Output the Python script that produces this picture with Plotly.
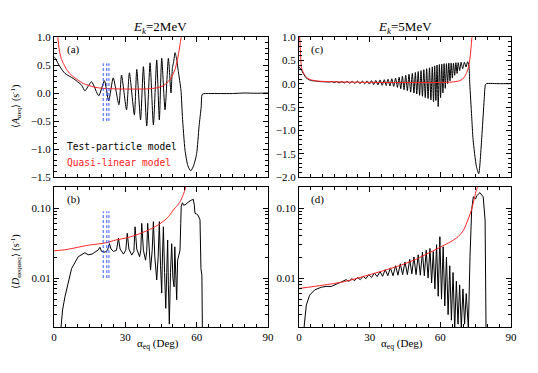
import plotly.graph_objects as go
from plotly.subplots import make_subplots

# ---------------- data ----------------
# Panel (a): E_k = 2 MeV, <A_aeq>
a_tp_x = [0, 0.5, 2.5, 4.6, 8.1, 11.6, 13.0, 15.8, 18.8, 21.2, 23.0, 24.9, 27.3, 28.4, 30.5, 31.7,
          33.8, 34.8, 36.4, 37.6, 39.0, 40.4, 41.8, 43.2, 44.3, 45.3, 46.7, 48.1, 49.2, 49.8, 50.3,
          50.9, 51.6, 52.3, 53.4, 54.0, 55.1, 56.3, 57.5, 58.7, 60.0, 61.0, 61.9, 62.4, 65, 70, 75,
          80, 85, 90]
a_tp_y = [0.65, 0.62, 0.47, 0.35, 0.26, 0.14, 0.04, 0.20, -0.05, 0.22, -0.14, 0.27, -0.21, 0.32,
          -0.30, 0.36, -0.39, 0.42, -0.48, 0.47, -0.59, 0.54, -0.57, 0.59, -0.48, 0.62, -0.30, 0.62,
          0.0, 0.45, 0.55, 0.72, 0.60, 0.38, 0.05, -0.42, -1.02, -1.30, -1.39, -1.30, -1.08, -0.60,
          -0.25, -0.02, -0.01, -0.01, -0.01, 0.0, -0.005, 0.0]
a_ql_x = [1.5, 2.2, 3.0, 3.9, 5.3, 7.0, 8.8, 12.3, 16.5, 20, 25, 30, 35, 40, 43, 46, 48.8, 50.9,
          52.3, 53.2, 53.7]
a_ql_y = [1.05, 0.77, 0.62, 0.53, 0.42, 0.33, 0.27, 0.17, 0.11, 0.085, 0.075, 0.07, 0.07, 0.075,
          0.09, 0.13, 0.24, 0.42, 0.68, 0.92, 1.05]

# Panel (b): E_k = 2 MeV, <D_aeqaeq>
b_tp_x = [2.9, 3.6, 4.6, 5.5, 7.4, 10.2, 12.0, 13.0, 14.4, 16.0, 17.2, 18.5, 19.3, 20.0, 21.5,
          22.5, 23.3, 24.0, 25.0, 26.3, 27.1, 27.8, 29.2, 30.2, 30.8, 31.5, 32.7, 33.6, 34.1, 34.8,
          36.0, 36.5, 36.9, 37.6, 38.5, 39.0, 39.4, 40.0, 40.6, 41.3, 41.8, 42.4, 43.2, 43.8, 44.3,
          44.8, 45.3, 45.6, 46.0, 46.5, 47.0, 47.4, 47.8, 48.1, 48.5, 49.0, 49.5, 50.0, 50.5, 50.8,
          51.2, 51.6, 52.0, 52.5, 53.0, 53.3, 53.5, 54.0, 54.5, 55.1, 56.0, 56.8, 57.8, 58.6, 59.0,
          59.3, 60.0, 60.6, 61.4, 61.7, 61.8, 62.2, 62.4]
b_tp_y = [0.0019, 0.0035, 0.0054, 0.0075, 0.0137, 0.0202, 0.022, 0.023, 0.0215, 0.022, 0.0235,
          0.025, 0.0275, 0.024, 0.0235, 0.025, 0.031, 0.026, 0.024, 0.025, 0.037, 0.026, 0.022,
          0.025, 0.0436, 0.026, 0.0213, 0.024, 0.054, 0.026, 0.0202, 0.025, 0.0605, 0.025, 0.018,
          0.024, 0.0605, 0.022, 0.013, 0.025, 0.064, 0.020, 0.0094, 0.020, 0.064, 0.015, 0.0061,
          0.020, 0.054, 0.012, 0.0037, 0.012, 0.035, 0.008, 0.0022, 0.012, 0.031, 0.010, 0.0075,
          0.028, 0.008, 0.0049, 0.018, 0.022, 0.025, 0.060, 0.105, 0.119, 0.110, 0.111, 0.120,
          0.124, 0.130, 0.133, 0.110, 0.084, 0.082, 0.079, 0.068, 0.030, 0.0137, 0.011, 0.0019]
b_ql_x = [0, 5, 10, 13.7, 17.2, 22, 26, 31.2, 36, 41.1, 44, 46.7, 48.5, 50.2, 51.8, 53.0, 54.0,
          54.8, 55.6]
b_ql_y = [0.0245, 0.0255, 0.0275, 0.0292, 0.0303, 0.032, 0.035, 0.038, 0.043, 0.051, 0.058,
          0.0676, 0.078, 0.094, 0.108, 0.123, 0.145, 0.171, 0.21]

# Panel (c): E_k = 5 MeV, <A_aeq>
c_tp_x = [0, 1, 2, 3, 4, 5, 7, 9, 11, 13, 14.0, 15.0, 16.0, 17.0, 18.2, 19.3, 20.4, 21.5, 22.6,
          23.7, 24.8, 25.9, 26.9, 27.9, 28.9, 29.9, 30.8, 31.7, 32.6, 33.5, 34.4, 35.3, 36.2, 37.0,
          37.8, 38.6, 39.4, 40.2, 41.0, 41.8, 42.5, 43.2, 43.9, 44.6, 45.3, 46.0, 46.7, 47.4, 48.1,
          48.8, 49.4, 50.0, 50.6, 51.2, 51.8, 52.4, 53.0, 53.6, 54.2, 54.8, 55.4, 56.0, 56.6, 57.1,
          57.6, 58.1, 58.6, 59.1, 59.6, 60.1, 60.6, 61.1, 61.6, 62.1, 62.6, 63.1, 63.6, 64.1, 64.6,
          65.1, 65.6, 66.1, 66.6, 67.1, 67.6, 68.2, 68.8, 69.5, 70.2, 70.9, 71.6, 72.1, 72.5, 73.3,
          73.9, 75.3, 76.3, 77.7, 78.6, 79.1, 79.5, 85, 90]
c_tp_y = [0.36, 0.30, 0.20, 0.13, 0.09, 0.07, 0.055, 0.045, 0.04, 0.035, 0.045, 0.02, 0.045,
          0.015, 0.045, 0.015, 0.05, 0.01, 0.05, 0.005, 0.055, 0.0, 0.055, -0.005, 0.06, -0.01,
          0.065, -0.02, 0.07, -0.025, 0.08, -0.035, 0.085, -0.04, 0.095, -0.05, 0.105, -0.06,
          0.12, -0.08, 0.14, -0.11, 0.16, -0.13, 0.18, -0.15, 0.20, -0.18, 0.22, -0.20, 0.24,
          -0.22, 0.26, -0.25, 0.28, -0.27, 0.30, -0.30, 0.32, -0.32, 0.34, -0.35, 0.36, -0.39,
          0.38, -0.36, 0.40, -0.49, 0.41, -0.30, 0.42, -0.20, 0.43, -0.10, 0.43, 0.0, 0.44, 0.06,
          0.44, 0.12, 0.44, 0.18, 0.45, 0.22, 0.45, 0.28, 0.46, 0.32, 0.46, 0.36, 0.47, 0.40, 0.0,
          -0.70, -1.20, -1.77, -1.93, -1.06, -0.35, -0.03, 0.0, 0.0, 0.0]
c_ql_x = [0.25, 0.5, 0.8, 1.0, 1.6, 2.4, 3.5, 5.2, 8, 12, 20, 30, 40, 50, 60, 65, 68, 69.5, 70.3,
          71.2, 72.0, 72.6, 73.1, 73.5]
c_ql_y = [1.05, 0.80, 0.50, 0.36, 0.26, 0.19, 0.12, 0.08, 0.055, 0.045, 0.035, 0.028, 0.025,
          0.023, 0.025, 0.035, 0.06, 0.10, 0.15, 0.24, 0.36, 0.55, 0.80, 1.05]

# Panel (d): E_k = 5 MeV, <D_aeqaeq>
d_tp_x = [2.1, 2.6, 3.1, 4.5, 6.7, 9.5, 11.5, 13.7, 15.5, 18.0, 20.0, 21.2, 22.4, 23.6, 24.8,
          26.0, 27.2, 28.4, 29.6, 30.8, 32.0, 33.2, 34.4, 35.5, 36.6, 37.7, 38.8, 39.9, 41.0, 42.0,
          43.0, 44.0, 45.0, 46.0, 47.0, 47.9, 48.8, 49.7, 50.6, 51.5, 52.4, 53.2, 54.0, 54.8, 55.6,
          56.3, 57.0, 57.7, 58.4, 59.1, 59.8, 60.5, 61.2, 61.9, 62.6, 63.3, 64.0, 64.7, 65.4, 66.1,
          66.8, 67.5, 68.2, 68.9, 69.6, 70.3, 71.0, 71.9, 72.6, 73.3, 74.0, 75.0, 75.4, 76.8, 78.2,
          78.6, 79.0, 79.4]
d_tp_y = [0.0019, 0.003, 0.0041, 0.0057, 0.0068, 0.0074, 0.0076, 0.0076, 0.008, 0.0088, 0.0095,
          0.0090, 0.0098, 0.0092, 0.0102, 0.0095, 0.0106, 0.0098, 0.0112, 0.0102, 0.0118, 0.0105,
          0.0124, 0.0106, 0.0132, 0.0108, 0.0140, 0.0108, 0.0150, 0.0110, 0.0160, 0.0112, 0.0170,
          0.0112, 0.0185, 0.0115, 0.0200, 0.0112, 0.0215, 0.0110, 0.0235, 0.0108, 0.0250, 0.0100,
          0.0265, 0.0085, 0.0240, 0.0070, 0.0300, 0.0055, 0.0390, 0.0050, 0.0280, 0.0040, 0.0200,
          0.0030, 0.0150, 0.0025, 0.0120, 0.0019, 0.0090, 0.0022, 0.0080, 0.0019, 0.0070, 0.0022,
          0.0060, 0.0019, 0.0202, 0.094, 0.145, 0.135, 0.150, 0.166, 0.145, 0.110, 0.068, 0.0019]
d_ql_x = [0, 10, 19.4, 29.3, 36, 43.5, 50, 54.8, 58.5, 61.8, 65, 67.5, 69.8, 71.7, 73.2, 74.6,
          75.3, 76]
d_ql_y = [0.0071, 0.0079, 0.0089, 0.011, 0.0128, 0.0154, 0.0188, 0.0226, 0.026, 0.0297, 0.034,
          0.039, 0.048, 0.0676, 0.094, 0.145, 0.18, 0.21]

# blue dashed marker lines (panel a & b)
mark_x = [20.7, 22.2, 23.1]
mark_a_y = [-0.5, 0.53]
mark_b_y = [0.01, 0.09]

x_ticks = [0, 30, 60, 90]
log_ticks = [0.01, 0.1]
log_tick_text = ["0.01", "0.10"]
log_minor = [0.002, 0.003, 0.004, 0.005, 0.006, 0.007, 0.008, 0.009,
             0.02, 0.03, 0.04, 0.05, 0.06, 0.07, 0.08, 0.09, 0.2]

# ---------------- figure ----------------
# the html page has an 8px body margin: the figure is placed at (8, 8)
OFF = 8
W, H = 538 - 2 * OFF, 373 - 2 * OFF
def px(x):
    return (x - OFF) / W
def py(y):
    return 1 - (y - OFF) / H

fig = make_subplots(rows=2, cols=2)

BLACK = "#000000"
RED = "#ff2020"
BLUE = "#3a5cff"

def add_line(xs, ys, row, col, color, shape="linear", width=1.0):
    fig.add_trace(go.Scatter(x=xs, y=ys, mode="lines",
                             line=dict(color=color, width=width, shape=shape, smoothing=0.6),
                             hoverinfo="skip", showlegend=False), row=row, col=col)

add_line(a_tp_x, a_tp_y, 1, 1, BLACK, "spline")
add_line(a_ql_x, a_ql_y, 1, 1, RED, "spline")
add_line(b_tp_x, b_tp_y, 2, 1, BLACK)
add_line(b_ql_x, b_ql_y, 2, 1, RED, "spline")
add_line(c_tp_x, c_tp_y, 1, 2, BLACK, "spline")
add_line(c_ql_x, c_ql_y, 1, 2, RED, "spline")
add_line(d_tp_x, d_tp_y, 2, 2, BLACK)
add_line(d_ql_x, d_ql_y, 2, 2, RED, "spline")

for mx in mark_x:
    fig.add_trace(go.Scatter(x=[mx, mx], y=mark_a_y, mode="lines",
                             line=dict(color=BLUE, width=1, dash="3px,2px"),
                             hoverinfo="skip", showlegend=False), row=1, col=1)
    fig.add_trace(go.Scatter(x=[mx, mx], y=mark_b_y, mode="lines",
                             line=dict(color=BLUE, width=1, dash="3px,2px"),
                             hoverinfo="skip", showlegend=False), row=2, col=1)

TICKFONT = dict(family="Liberation Serif", size=11, color="black")
base = dict(showline=True, linecolor="black", linewidth=1, mirror="ticks", ticks="inside",
            ticklen=5, tickwidth=1, tickcolor="black", showgrid=False, zeroline=False,
            tickfont=TICKFONT, automargin=False)

xdom_l = [px(54), px(268)]
xdom_r = [px(299), px(511)]
ydom_t = [py(177), py(37)]
ydom_b = [py(327), py(187)]

xminor = dict(ticks="inside", ticklen=3, tickcolor="black", dtick=5, tick0=0, showgrid=False)
for name, dom, lab in [("xaxis", xdom_l, False), ("xaxis2", xdom_r, False),
                       ("xaxis3", xdom_l, True), ("xaxis4", xdom_r, True)]:
    fig.layout[name].update(base, domain=dom, range=[0, 90], tickmode="array",
                            tickvals=x_ticks, showticklabels=lab, minor=xminor)

yminor = dict(ticks="inside", ticklen=3, tickcolor="black", dtick=0.1, showgrid=False)
fig.layout.yaxis.update(base, domain=ydom_t, range=[-1.5, 1.0], dtick=0.5, tick0=0,
                        tickformat=".1f", minor=dict(yminor, tick0=-1.5))
fig.layout.yaxis2.update(base, domain=ydom_t, range=[-2.0, 1.0], dtick=0.5, tick0=0,
                         tickformat=".1f", minor=dict(yminor, tick0=-2.0))
logminor = dict(ticks="inside", ticklen=3, tickcolor="black", tickmode="array",
                tickvals=log_minor, showgrid=False)
for name in ["yaxis3", "yaxis4"]:
    fig.layout[name].update(base, domain=ydom_b, type="log",
                            range=[-2.69897, -0.69897], tickmode="array",
                            tickvals=log_ticks, ticktext=log_tick_text, minor=logminor)

ann = []
def text(x, y, s, size=11, family="Liberation Serif", color="black", angle=0, xanchor="center"):
    ann.append(dict(x=px(x), y=py(y), xref="paper", yref="paper", text=s, showarrow=False,
                    font=dict(family=family, size=size, color=color), textangle=angle,
                    xanchor=xanchor, yanchor="middle"))

text(160, 27, "<i>E</i><sub><i>k</i></sub>=2MeV", size=13)
text(405, 27, "<i>E</i><sub><i>k</i></sub>=5MeV", size=13)
text(73, 49, "(a)", size=11)
text(73, 199, "(b)", size=11)
text(317, 49, "(c)", size=11)
text(317, 199, "(d)", size=11)
text(65, 147, "Test-particle model", size=9.6, family="DejaVu Sans Mono", xanchor="left")
text(65, 162, "Quasi-linear model", size=9.6, family="DejaVu Sans Mono", color=RED,
     xanchor="left")
text(16, 107, "⟨<i>A</i><sub>αeq</sub>⟩ (s<sup>-1</sup>)", size=10, angle=-90)
text(16, 262, "⟨<i>D</i><sub>αeqαeq</sub>⟩ (s<sup>-1</sup>)", size=10, angle=-90)
text(158, 344, "α<sub>eq</sub> (Deg)", size=11)
text(402, 344, "α<sub>eq</sub> (Deg)", size=11)

fig.update_layout(width=W, height=H, margin=dict(l=0, r=0, t=0, b=0),
                  paper_bgcolor="white", plot_bgcolor="white", annotations=ann,
                  showlegend=False)

fig.write_html("out.html")
